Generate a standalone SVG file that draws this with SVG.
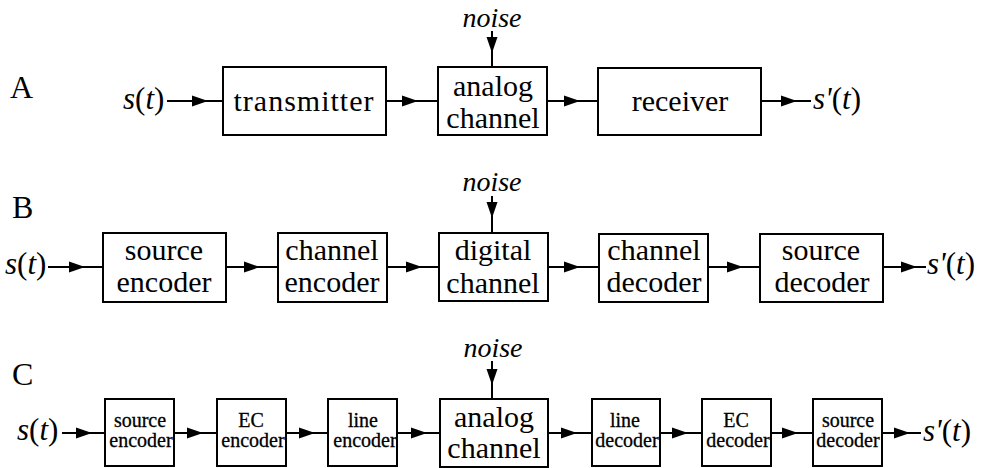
<svg xmlns="http://www.w3.org/2000/svg" width="996" height="468" viewBox="0 0 996 468">
  <rect width="996" height="468" fill="#fff"/>

  <!-- row labels -->
  <text font-family="Liberation Serif, serif" font-size="32" x="10" y="98">A</text>
  <text font-family="Liberation Serif, serif" font-size="32" x="12" y="218">B</text>
  <text font-family="Liberation Serif, serif" font-size="32" x="12" y="385">C</text>

  <!-- connectors: lines with a filled head part-way along -->
  <g id="connectors" stroke="#000" stroke-width="2" fill="#000">
    <!-- row A -->
    <path d="M167,101 H223"/><polygon stroke="none" points="192,95.5 208,101 192,106.5"/>
    <path d="M386,101 H438"/><polygon stroke="none" points="402,95.5 418,101 402,106.5"/>
    <path d="M547,101 H598"/><polygon stroke="none" points="564,95.5 580,101 564,106.5"/>
    <path d="M761,101 H811"/><polygon stroke="none" points="781,95.5 797,101 781,106.5"/>
    <path d="M492,31 V67"/><polygon stroke="none" points="486.5,37 492,53 497.5,37"/>
    <!-- row B -->
    <path d="M48,267 H103"/><polygon stroke="none" points="69,261.5 85,267 69,272.5"/>
    <path d="M226,267 H278"/><polygon stroke="none" points="244,261.5 260,267 244,272.5"/>
    <path d="M387,267 H439"/><polygon stroke="none" points="406,261.5 422,267 406,272.5"/>
    <path d="M548,267 H599"/><polygon stroke="none" points="564,261.5 580,267 564,272.5"/>
    <path d="M708,267 H760"/><polygon stroke="none" points="727,261.5 743,267 727,272.5"/>
    <path d="M883,267 H926"/><polygon stroke="none" points="901,261.5 917,267 901,272.5"/>
    <path d="M492,196 V233"/><polygon stroke="none" points="486.5,202 492,218 497.5,202"/>
    <!-- row C -->
    <path d="M62,433 H105"/><polygon stroke="none" points="76,427.5 92,433 76,438.5"/>
    <path d="M174,433 H217"/><polygon stroke="none" points="187,427.5 203,433 187,438.5"/>
    <path d="M286,433 H328"/><polygon stroke="none" points="299,427.5 315,433 299,438.5"/>
    <path d="M397,433 H440"/><polygon stroke="none" points="411,427.5 427,433 411,438.5"/>
    <path d="M548,433 H592"/><polygon stroke="none" points="561,427.5 577,433 561,438.5"/>
    <path d="M660,433 H702"/><polygon stroke="none" points="672,427.5 688,433 672,438.5"/>
    <path d="M771,433 H813"/><polygon stroke="none" points="782,427.5 798,433 782,438.5"/>
    <path d="M882,433 H921"/><polygon stroke="none" points="894,427.5 910,433 894,438.5"/>
    <path d="M492,361 V399"/><polygon stroke="none" points="486.5,369 492,385 497.5,369"/>
  </g>

  <!-- row A: analog link -->
  <g id="a-input"><text font-family="Liberation Serif, serif" font-size="31" x="123" y="109"><tspan font-style="italic">s</tspan>(<tspan font-style="italic">t</tspan>)</text></g>
  <g id="a-transmitter" font-family="Liberation Serif, serif" font-size="30" text-anchor="middle">
    <rect x="223" y="67" width="163" height="68" fill="#fff" stroke="#000" stroke-width="2"/>
    <text x="304" y="111" letter-spacing="1">transmitter</text>
  </g>
  <g id="a-channel" font-family="Liberation Serif, serif" font-size="30" text-anchor="middle">
    <rect x="438" y="67" width="109" height="68" fill="#fff" stroke="#000" stroke-width="2"/>
    <text x="493" y="96">analog</text>
    <text x="493" y="128">channel</text>
  </g>
  <g id="a-noise"><text font-family="Liberation Serif, serif" font-size="28" font-style="italic" x="492" y="27" text-anchor="middle">noise</text></g>
  <g id="a-receiver" font-family="Liberation Serif, serif" font-size="30" text-anchor="middle">
    <rect x="598" y="68" width="163" height="67" fill="#fff" stroke="#000" stroke-width="2"/>
    <text x="680" y="111">receiver</text>
  </g>
  <g id="a-output"><text font-family="Liberation Serif, serif" font-size="31" x="813" y="109"><tspan font-style="italic">s'</tspan>(<tspan font-style="italic">t</tspan>)</text></g>

  <!-- row B: digital link -->
  <g id="b-input"><text font-family="Liberation Serif, serif" font-size="31" x="5" y="274"><tspan font-style="italic">s</tspan>(<tspan font-style="italic">t</tspan>)</text></g>
  <g id="b-source-encoder" font-family="Liberation Serif, serif" font-size="30" text-anchor="middle">
    <rect x="103" y="233" width="123" height="69" fill="#fff" stroke="#000" stroke-width="2"/>
    <text x="164" y="260">source</text>
    <text x="164" y="292">encoder</text>
  </g>
  <g id="b-channel-encoder" font-family="Liberation Serif, serif" font-size="30" text-anchor="middle">
    <rect x="278" y="233" width="109" height="69" fill="#fff" stroke="#000" stroke-width="2"/>
    <text x="332" y="260">channel</text>
    <text x="332" y="292">encoder</text>
  </g>
  <g id="b-channel" font-family="Liberation Serif, serif" font-size="30" text-anchor="middle">
    <rect x="439" y="233" width="109" height="68" fill="#fff" stroke="#000" stroke-width="2"/>
    <text x="493" y="260">digital</text>
    <text x="493" y="293">channel</text>
  </g>
  <g id="b-noise"><text font-family="Liberation Serif, serif" font-size="28" font-style="italic" x="492" y="191" text-anchor="middle">noise</text></g>
  <g id="b-channel-decoder" font-family="Liberation Serif, serif" font-size="30" text-anchor="middle">
    <rect x="599" y="234" width="109" height="68" fill="#fff" stroke="#000" stroke-width="2"/>
    <text x="654" y="260">channel</text>
    <text x="654" y="292">decoder</text>
  </g>
  <g id="b-source-decoder" font-family="Liberation Serif, serif" font-size="30" text-anchor="middle">
    <rect x="760" y="234" width="123" height="68" fill="#fff" stroke="#000" stroke-width="2"/>
    <text x="821" y="260">source</text>
    <text x="822" y="292">decoder</text>
  </g>
  <g id="b-output"><text font-family="Liberation Serif, serif" font-size="31" x="927" y="274"><tspan font-style="italic">s'</tspan>(<tspan font-style="italic">t</tspan>)</text></g>

  <!-- row C: full chain over an analog channel -->
  <g id="c-input"><text font-family="Liberation Serif, serif" font-size="31" x="17" y="440"><tspan font-style="italic">s</tspan>(<tspan font-style="italic">t</tspan>)</text></g>
  <g id="c-source-encoder" font-family="Liberation Serif, serif" font-size="20" text-anchor="middle" stroke="#000" stroke-width="0.3">
    <rect x="105" y="399" width="69" height="67" fill="#fff" stroke-width="2"/>
    <text x="140" y="427">source</text>
    <text x="141" y="447">encoder</text>
  </g>
  <g id="c-ec-encoder" font-family="Liberation Serif, serif" font-size="20" text-anchor="middle" stroke="#000" stroke-width="0.3">
    <rect x="217" y="399" width="69" height="67" fill="#fff" stroke-width="2"/>
    <text x="251" y="427">EC</text>
    <text x="253" y="447">encoder</text>
  </g>
  <g id="c-line-encoder" font-family="Liberation Serif, serif" font-size="20" text-anchor="middle" stroke="#000" stroke-width="0.3">
    <rect x="328" y="399" width="69" height="67" fill="#fff" stroke-width="2"/>
    <text x="363" y="427">line</text>
    <text x="365" y="447">encoder</text>
  </g>
  <g id="c-channel" font-family="Liberation Serif, serif" font-size="30" text-anchor="middle">
    <rect x="440" y="399" width="108" height="68" fill="#fff" stroke="#000" stroke-width="2"/>
    <text x="494" y="427">analog</text>
    <text x="494" y="458">channel</text>
  </g>
  <g id="c-noise"><text font-family="Liberation Serif, serif" font-size="28" font-style="italic" x="493" y="357" text-anchor="middle">noise</text></g>
  <g id="c-line-decoder" font-family="Liberation Serif, serif" font-size="20" text-anchor="middle" stroke="#000" stroke-width="0.3">
    <rect x="592" y="399" width="68" height="67" fill="#fff" stroke-width="2"/>
    <text x="625" y="427">line</text>
    <text x="627" y="447">decoder</text>
  </g>
  <g id="c-ec-decoder" font-family="Liberation Serif, serif" font-size="20" text-anchor="middle" stroke="#000" stroke-width="0.3">
    <rect x="702" y="399" width="69" height="67" fill="#fff" stroke-width="2"/>
    <text x="736" y="427">EC</text>
    <text x="738" y="447">decoder</text>
  </g>
  <g id="c-source-decoder" font-family="Liberation Serif, serif" font-size="20" text-anchor="middle" stroke="#000" stroke-width="0.3">
    <rect x="813" y="399" width="69" height="67" fill="#fff" stroke-width="2"/>
    <text x="848" y="427">source</text>
    <text x="848" y="447">decoder</text>
  </g>
  <g id="c-output"><text font-family="Liberation Serif, serif" font-size="31" x="923" y="441"><tspan font-style="italic">s'</tspan>(<tspan font-style="italic">t</tspan>)</text></g>
</svg>
